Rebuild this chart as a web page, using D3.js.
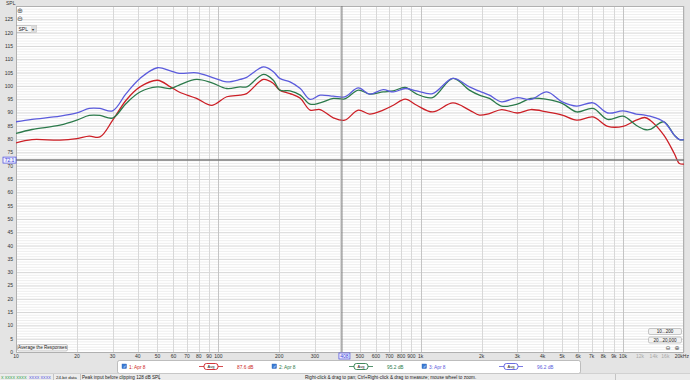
<!DOCTYPE html>
<html>
<head>
<meta charset="utf-8">
<script src="https://cdn.jsdelivr.net/npm/d3@7"></script>
<style>
  html, body { margin: 0; padding: 0; background: #e4e4e4; }
  svg { display: block; font-family: "Liberation Sans", "DejaVu Sans", sans-serif; }
</style>
</head>
<body>
<div id="chart"></div>
<script>
// REW style SPL overlay
const width = 690
const height = 380

const freqs = [10, 12, 16.5, 20, 23, 26, 30, 35, 41, 50, 58, 64, 78, 93, 110, 128, 138, 167, 187, 201,
  226, 254, 284, 318, 370, 421, 492, 559, 652, 732, 838, 956, 1144, 1443, 1740, 1950, 2185, 2511,
  3000, 3500, 4200, 5000, 5900, 7100, 8400, 10000, 11600, 12800, 13600, 15900, 17900, 19000, 20000]

const splRed = [78.6, 79.8, 79.6, 80.2, 81.1, 80.8, 87.0, 94.6, 99.6, 102.1, 99.6, 97.7, 95.3, 92.7, 95.9, 96.5, 97.1, 102.4, 100.9, 98.4,
  97.1, 95.3, 90.9, 91.1, 88.0, 87.1, 90.9, 89.4, 90.9, 92.7, 95.0, 92.7, 90.2, 93.6, 90.9, 89.0, 89.6, 91.1,
  89.8, 91.1, 90.2, 89.0, 87.1, 88.3, 84.8, 84.8, 87.1, 88.1, 87.1, 81.5, 74.6, 70.8, 70.6]

const splGreen = [82.1, 83.6, 85.2, 87.1, 88.9, 88.9, 87.9, 93.4, 97.7, 99.6, 99.0, 100.3, 102.4, 101.1, 99.0, 99.6, 99.6, 104.3, 102.1, 98.4,
  98.1, 96.5, 93.1, 93.6, 95.3, 95.1, 98.4, 96.9, 97.7, 98.1, 99.4, 96.9, 95.6, 102.8, 98.4, 96.5, 95.3, 92.4,
  93.1, 95.3, 94.9, 93.4, 90.2, 91.5, 87.4, 88.6, 85.2, 83.6, 83.6, 86.5, 81.5, 79.8, 79.8]

const splBlue = [86.5, 87.4, 88.6, 89.8, 91.5, 91.5, 90.6, 97.1, 102.8, 106.8, 105.6, 104.7, 104.9, 103.2, 101.5, 102.4, 103.2, 107.1, 105.3, 102.8,
  101.5, 99.0, 94.9, 96.5, 96.1, 95.9, 99.2, 96.9, 98.6, 97.7, 99.0, 98.1, 97.1, 102.8, 99.6, 98.0, 96.5, 94.0,
  95.6, 94.9, 97.7, 94.0, 92.4, 93.6, 89.8, 90.6, 89.4, 89.0, 88.6, 86.5, 81.5, 79.8, 79.8]

const seriesNames = ['1: Apr 8', '2: Apr 8', '3: Apr 8']
const seriesColors = ['#cc1f26', '#2c7a4b', '#5b5bdc']
const seriesLevels = ['87.6 dB', '95.2 dB', '96.2 dB']

const xTicks = [10, 20, 30, 40, 50, 60, 70, 80, 90, 100, 200, 300, 500, 600, 700, 800, 900, 1000,
  2000, 3000, 4000, 5000, 6000, 7000, 8000, 9000, 10000]
const xTickLabels = ['10', '20', '30', '40', '50', '60', '70', '80', '90', '100', '200', '300', '500', '600', '700', '800', '900', '1k',
  '2k', '3k', '4k', '5k', '6k', '7k', '8k', '9k', '10k']
const xFaintTicks = [12000, 14000, 16000]
const xFaintLabels = ['12k', '14k', '16k']

const cursorFreq = 408
const cursorSpl = 72.1

const plot = { left: 16, right: 684, top: 6, bottom: 352 }

const x = d3.scaleLog().domain([10, 20000]).range([plot.left, plot.right])
const y = d3.scaleLinear().domain([0, 130]).range([plot.bottom, plot.top])

const svg = d3.select('#chart')
    .append('svg')
    .attr('width', width)
    .attr('height', height)

// background pieces
svg.append('rect').attr('x', 0).attr('y', 0).attr('width', width).attr('height', height).attr('fill', '#e4e4e4')
svg.append('rect').attr('x', plot.left).attr('y', plot.top)
    .attr('width', plot.right - plot.left).attr('height', plot.bottom - plot.top)
    .attr('fill', '#fff')

// minor horizontal grid (1 dB), major every 5
const grid = svg.append('g')
d3.range(1, 130).filter(v => v % 5 !== 0).forEach(v => {
    grid.append('line')
        .attr('x1', plot.left).attr('x2', plot.right)
        .attr('y1', y(v) + 0.5).attr('y2', y(v) + 0.5)
        .attr('stroke', '#eeeeee')
})
d3.range(5, 131, 5).forEach(v => {
    grid.append('line')
        .attr('x1', plot.left).attr('x2', plot.right)
        .attr('y1', y(v) + 0.5).attr('y2', y(v) + 0.5)
        .attr('stroke', '#d6d6d6')
})

// vertical grid
const vLines = []
;[10, 100, 1000, 10000].forEach(dec => {
    for (let k = 1; k < 10; k++) {
        if (dec * k <= 20000) vLines.push(dec * k)
    }
})
vLines.push(20000)
vLines.forEach(f => {
    grid.append('line')
        .attr('x1', Math.round(x(f)) + 0.5).attr('x2', Math.round(x(f)) + 0.5)
        .attr('y1', plot.top).attr('y2', plot.bottom)
        .attr('stroke', [10, 100, 1000, 10000].includes(f) ? '#c4c4c4' : '#d8d8d8')
})

// frame
svg.append('rect')
    .attr('x', plot.left + 0.5).attr('y', plot.top + 0.5)
    .attr('width', plot.right - plot.left - 1).attr('height', plot.bottom - plot.top)
    .attr('fill', 'none').attr('stroke', '#b0b0b0')

// y labels
const yAxis = svg.append('g').attr('font-size', 5).attr('fill', '#333')
d3.range(0, 126, 5).forEach(v => {
    yAxis.append('text')
        .attr('x', 13).attr('y', y(v) + 2)
        .attr('text-anchor', 'end')
        .text(v)
})
yAxis.append('text').attr('x', 6).attr('y', 4.5).text('SPL')

// x labels
const xAxis = svg.append('g').attr('font-size', 5).attr('fill', '#333')
xTicks.forEach((f, i) => {
    xAxis.append('text')
        .attr('x', x(f)).attr('y', 358)
        .attr('text-anchor', 'middle')
        .text(xTickLabels[i])
})
xFaintTicks.forEach((f, i) => {
    xAxis.append('text')
        .attr('x', x(f) + 1).attr('y', 358)
        .attr('text-anchor', 'middle')
        .attr('fill', '#a8a8a8')
        .text(xFaintLabels[i])
})
xAxis.append('text').attr('x', 689).attr('y', 358).attr('text-anchor', 'end').text('20kHz')

// curves
const line = d3.line()
    .x(d => x(d[0]))
    .y(d => y(d[1]))
    .curve(d3.curveCatmullRom.alpha(0.5))

const clip = svg.append('clipPath').attr('id', 'plotclip')
clip.append('rect').attr('x', plot.left).attr('y', plot.top)
    .attr('width', plot.right - plot.left).attr('height', plot.bottom - plot.top)

const curves = svg.append('g').attr('clip-path', 'url(#plotclip)')
;[splRed, splGreen, splBlue].forEach((vals, i) => {
    curves.append('path')
        .datum(freqs.map((f, j) => [f, vals[j]]))
        .attr('d', line)
        .attr('fill', 'none')
        .attr('stroke', seriesColors[i])
        .attr('stroke-width', 1.3)
})

// cursors
svg.append('line')
    .attr('x1', plot.left).attr('x2', plot.right)
    .attr('y1', y(cursorSpl)).attr('y2', y(cursorSpl))
    .attr('stroke', '#7a7a7a').attr('stroke-width', 1.5)
svg.append('line')
    .attr('x1', x(cursorFreq)).attr('x2', x(cursorFreq))
    .attr('y1', plot.top).attr('y2', plot.bottom)
    .attr('stroke', '#777').attr('stroke-width', 1)

svg.append('rect')
    .attr('x', 3).attr('y', y(cursorSpl) - 3).attr('width', 13).attr('height', 6)
    .attr('fill', '#eef0ff').attr('stroke', '#4a4ae0').attr('stroke-width', 0.7)
svg.append('text')
    .attr('x', 9.5).attr('y', y(cursorSpl) + 1.8)
    .attr('text-anchor', 'middle').attr('font-size', 5).attr('fill', '#3a3ad8')
    .text(cursorSpl.toFixed(1))

svg.append('rect')
    .attr('x', x(cursorFreq) - 3).attr('y', 353).attr('width', 11).attr('height', 6)
    .attr('fill', '#eef0ff').attr('stroke', '#4a4ae0').attr('stroke-width', 0.7)
svg.append('text')
    .attr('x', x(cursorFreq) + 2.5).attr('y', 358)
    .attr('text-anchor', 'middle').attr('font-size', 5).attr('fill', '#3a3ad8')
    .text(cursorFreq)

// top-left controls
const ctl = svg.append('g').attr('font-size', 5).attr('fill', '#555')
ctl.append('text').attr('x', 20).attr('y', 13).attr('text-anchor', 'middle').attr('font-size', 7).text('\u2295')
ctl.append('text').attr('x', 20).attr('y', 21).attr('text-anchor', 'middle').attr('font-size', 7).text('\u2296')
ctl.append('rect').attr('x', 16.5).attr('y', 25.5).attr('width', 20).attr('height', 7)
    .attr('fill', '#f6f6f6').attr('stroke', '#999').attr('stroke-width', 0.5)
ctl.append('rect').attr('x', 31).attr('y', 25.5).attr('width', 5.5).attr('height', 7).attr('fill', '#ddd')
ctl.append('text').attr('x', 18.5).attr('y', 31).attr('fill', '#222').text('SPL')
ctl.append('text').attr('x', 32).attr('y', 31).attr('fill', '#222').attr('font-size', 4).text('\u25BE')

// "Average the Responses" button
svg.append('rect').attr('x', 17.5).attr('y', 344.5).attr('width', 50).attr('height', 6.5).attr('rx', 1.5)
    .attr('fill', '#f4f4f4').attr('stroke', '#999').attr('stroke-width', 0.5)
svg.append('text').attr('x', 42.5).attr('y', 349.3).attr('text-anchor', 'middle')
    .attr('font-size', 4.6).attr('fill', '#222').text('Average the Responses')

// range buttons bottom-right
;[['10...200', 328.5], ['20...20,000', 337]].forEach(b => {
    svg.append('rect').attr('x', 648.5).attr('y', b[1]).attr('width', 33).attr('height', 6).attr('rx', 1.5)
        .attr('fill', '#f2f2f2').attr('stroke', '#999').attr('stroke-width', 0.5)
    svg.append('text').attr('x', 665).attr('y', b[1] + 4.5).attr('text-anchor', 'middle')
        .attr('font-size', 4.6).attr('fill', '#222').text(b[0])
})
svg.append('text').attr('x', 668).attr('y', 349.5).attr('text-anchor', 'middle').attr('font-size', 6).attr('fill', '#555').text('\u2296')
svg.append('text').attr('x', 677).attr('y', 349.5).attr('text-anchor', 'middle').attr('font-size', 6).attr('fill', '#555').text('\u2295')

// legend panel
const legend = svg.append('g').attr('font-size', 4.8)
legend.append('rect').attr('x', 117.5).attr('y', 360.5).attr('width', 463).attr('height', 13).attr('rx', 2)
    .attr('fill', '#fff').attr('stroke', '#999').attr('stroke-width', 0.6)
const legendX = [122, 272, 422]
seriesNames.forEach((name, i) => {
    const lx = legendX[i]
    legend.append('rect').attr('x', lx).attr('y', 364).attr('width', 4.5).attr('height', 4.5)
        .attr('fill', '#3a7bd5').attr('stroke', '#2a5fb0').attr('stroke-width', 0.4)
    legend.append('text').attr('x', lx + 1).attr('y', 368).attr('font-size', 4).attr('fill', '#fff').text('\u2713')
    legend.append('text').attr('x', lx + 7).attr('y', 368.5).attr('fill', seriesColors[i]).text(name)
    const px = lx + 77
    legend.append('line').attr('x1', px).attr('x2', px + 24).attr('y1', 366.5).attr('y2', 366.5)
        .attr('stroke', seriesColors[i]).attr('stroke-width', 0.8)
    legend.append('rect').attr('x', px + 5).attr('y', 363.5).attr('width', 14).attr('height', 6).attr('rx', 2.5)
        .attr('fill', '#fff').attr('stroke', seriesColors[i]).attr('stroke-width', 0.9)
    legend.append('text').attr('x', px + 12).attr('y', 368).attr('text-anchor', 'middle')
        .attr('font-size', 4).attr('fill', '#222').text('Avg')
    legend.append('text').attr('x', lx + 115).attr('y', 368.5).attr('fill', seriesColors[i]).text(seriesLevels[i])
})

// status bar
const status = svg.append('g').attr('font-size', 4.6)
status.append('rect').attr('x', 0).attr('y', 373.5).attr('width', width).attr('height', 6.5).attr('fill', '#ececec')
status.append('line').attr('x1', 0).attr('x2', width).attr('y1', 373.5).attr('y2', 373.5).attr('stroke', '#bbb').attr('stroke-width', 0.5)
;[53, 80, 159, 615].forEach(sx => {
    status.append('line').attr('x1', sx + 0.5).attr('x2', sx + 0.5).attr('y1', 374).attr('y2', 380)
        .attr('stroke', '#aaa').attr('stroke-width', 0.6)
})
status.append('text').attr('x', 1).attr('y', 378.6).attr('fill', '#1a9a3a')
    .attr('font-size', 3.9).text('X XXXX XXXX')
status.append('text').attr('x', 29).attr('y', 378.6).attr('fill', '#4a4ae0')
    .attr('font-size', 3.9).text('XXXX XXXX')
status.append('text').attr('x', 56).attr('y', 378.6).attr('fill', '#222')
    .attr('font-size', 4.4).text('24-bit data')
status.append('text').attr('x', 82).attr('y', 378.6).attr('fill', '#222').text('Peak input before clipping 128 dB SPL')
status.append('text').attr('x', 305).attr('y', 378.6).attr('fill', '#222')
    .text('Right-click & drag to pan; Ctrl+Right-click & drag to measure; mouse wheel to zoom.')
</script>
</body>
</html>
